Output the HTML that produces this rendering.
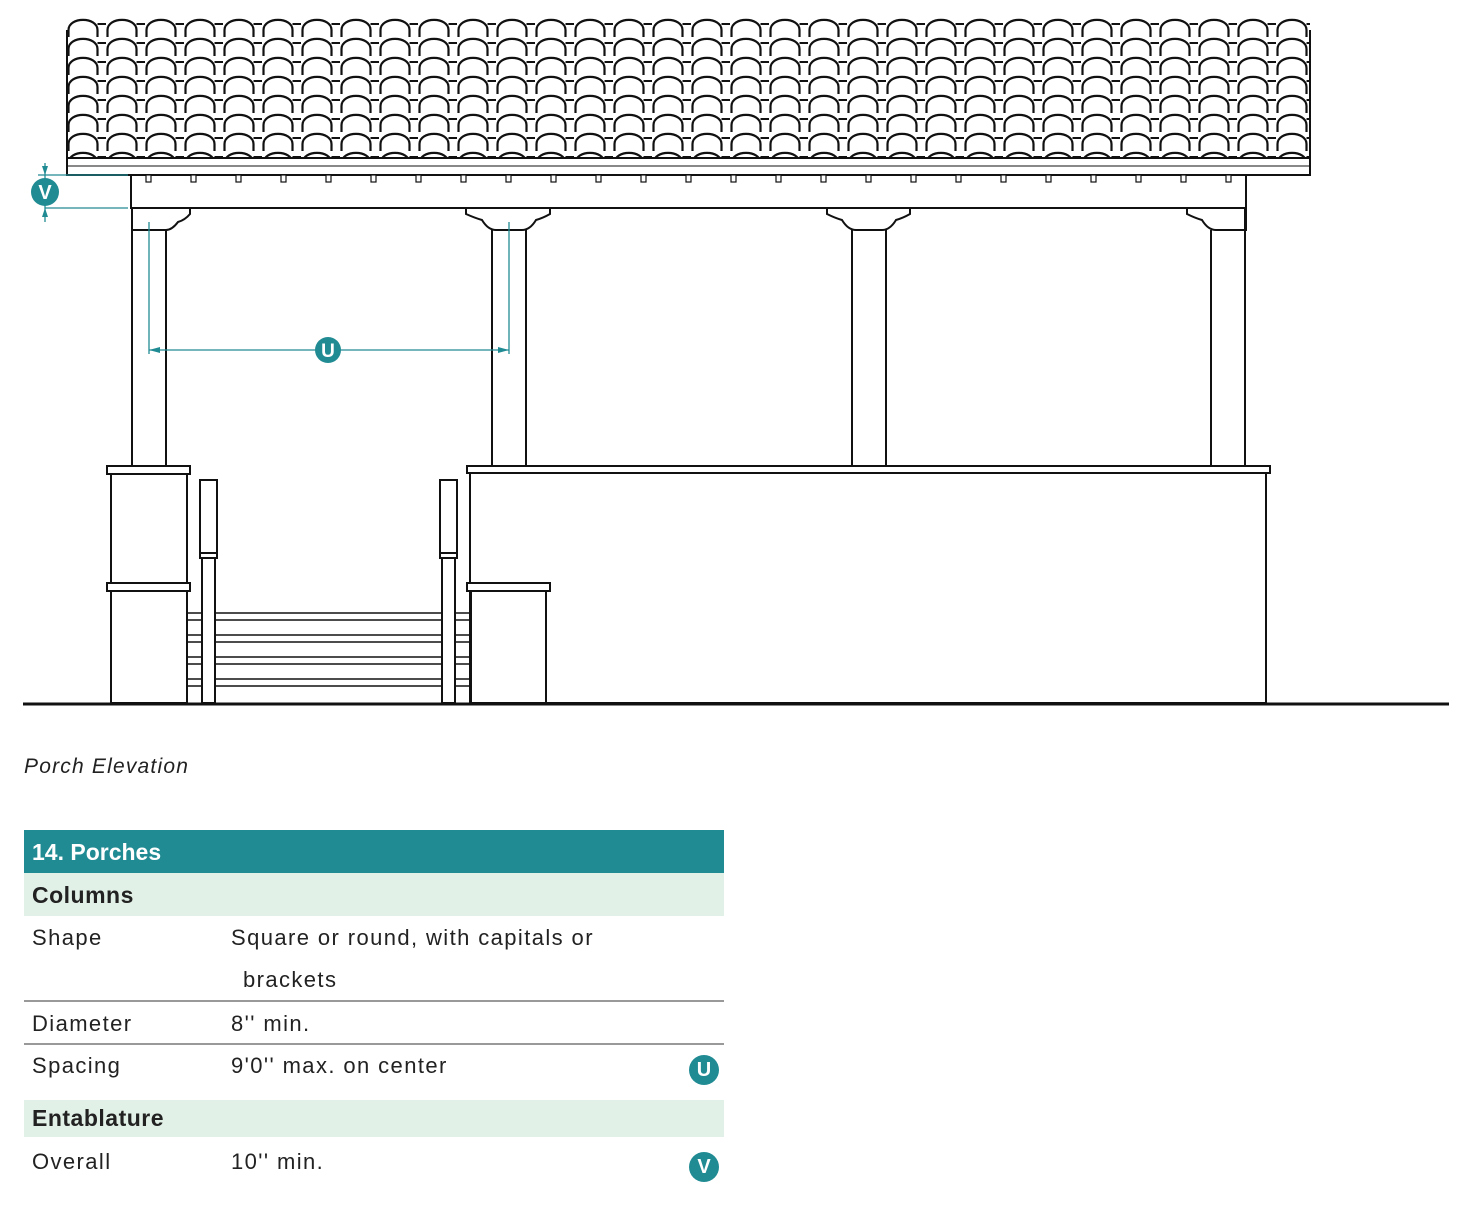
<!DOCTYPE html>
<html><head><meta charset="utf-8"><style>
body{margin:0;background:#fff;width:1469px;height:1210px;overflow:hidden;position:relative;font-family:"Liberation Sans",sans-serif}
.t{position:absolute;left:24px;width:700px}
.r{position:absolute;left:0;width:700px}
.r span{position:absolute;font-size:22px;color:#222;letter-spacing:1.4px}
.bad{position:absolute;width:30px;height:30px;border-radius:50%;background:#218b93;color:#fff;font-weight:bold;font-size:20px;text-align:center;line-height:30px}
</style></head><body>
<svg width="1469" height="720" style="position:absolute;left:0;top:0" xmlns="http://www.w3.org/2000/svg">
<defs>
<pattern id="tile" x="67" y="18" width="39" height="19" patternUnits="userSpaceOnUse">
<rect width="39" height="19" fill="#fff"/>
<path d="M1.5,19 L1.5,12 C1.5,-1.5 30.5,-1.5 30.5,12 L30.5,19" fill="none" stroke="#111" stroke-width="2.2"/>
<path d="M30.5,6 L39,6" stroke="#111" stroke-width="2"/>
</pattern>
</defs>
<g stroke="#111" fill="none" stroke-width="2">
<rect x="67" y="18" width="1243" height="142" fill="url(#tile)" stroke="none"/>
<path d="M67,160 L67,30 M1310,160 L1310,30"/>
<rect x="67" y="158" width="1243" height="17" fill="#fff"/>
<path d="M67,166 L1310,166" stroke-width="1"/>
<path d="M131,175 L131,208 L1246,208 L1246,175"/>
</g>
<g stroke="#111" fill="#fff" stroke-width="1.2">
<rect x="146" y="175" width="5" height="7"/><rect x="191" y="175" width="5" height="7"/><rect x="236" y="175" width="5" height="7"/><rect x="281" y="175" width="5" height="7"/><rect x="326" y="175" width="5" height="7"/><rect x="371" y="175" width="5" height="7"/><rect x="416" y="175" width="5" height="7"/><rect x="461" y="175" width="5" height="7"/><rect x="506" y="175" width="5" height="7"/><rect x="551" y="175" width="5" height="7"/><rect x="596" y="175" width="5" height="7"/><rect x="641" y="175" width="5" height="7"/><rect x="686" y="175" width="5" height="7"/><rect x="731" y="175" width="5" height="7"/><rect x="776" y="175" width="5" height="7"/><rect x="821" y="175" width="5" height="7"/><rect x="866" y="175" width="5" height="7"/><rect x="911" y="175" width="5" height="7"/><rect x="956" y="175" width="5" height="7"/><rect x="1001" y="175" width="5" height="7"/><rect x="1046" y="175" width="5" height="7"/><rect x="1091" y="175" width="5" height="7"/><rect x="1136" y="175" width="5" height="7"/><rect x="1181" y="175" width="5" height="7"/><rect x="1226" y="175" width="5" height="7"/>
</g>
<g stroke="#111" fill="#fff" stroke-width="2">
<path d="M131,208 L190,208 L190,214 Q185,220 178,222 Q172,230 166,230 L131,230"/>
<path d="M466,208 L550,208 L550,214 Q543,218 536,220 Q530,230 522,230 L496,230 Q488,230 482,220 Q475,218 466,214Z"/>
<path d="M827,208 L910,208 L910,214 Q903,218 896,220 Q890,230 882,230 L856,230 Q848,230 842,220 Q835,218 827,214Z"/>
<path d="M1187,208 L1246,208 L1246,230 L1216,230 Q1208,230 1202,220 Q1195,218 1187,214Z"/>
<path d="M132,208 L132,467 M166,230 L166,467"/>
<path d="M492,230 L492,467 M526,230 L526,467"/>
<path d="M852,230 L852,467 M886,230 L886,467"/>
<path d="M1211,230 L1211,467 M1245,208 L1245,467"/>
<rect x="467" y="466" width="803" height="7"/>
<rect x="470" y="473" width="796" height="230"/>
<rect x="107" y="466" width="83" height="8"/>
<rect x="111" y="474" width="76" height="229"/>
<rect x="107" y="583" width="83" height="8"/>
<rect x="467" y="583" width="83" height="8"/>
<rect x="471" y="591" width="75" height="112"/>
</g>
<g stroke="#111" stroke-width="1.5">
<path d="M187,613 L471,613 M187,620 L471,620 M187,635 L471,635 M187,642 L471,642 M187,657 L471,657 M187,664 L471,664 M187,679 L471,679 M187,686 L471,686"/>
</g>
<g stroke="#111" fill="#fff" stroke-width="2">
<rect x="200" y="480" width="17" height="73"/><rect x="200" y="553" width="17" height="5"/><rect x="202" y="558" width="13" height="145"/>
<rect x="440" y="480" width="17" height="73"/><rect x="440" y="553" width="17" height="5"/><rect x="442" y="558" width="13" height="145"/>
</g>
<path d="M23,704 L1449,704" stroke="#111" stroke-width="3"/>
<g stroke="#218b93" stroke-width="1.3" fill="#218b93">
<path d="M149,222 L149,354 M509,222 L509,354 M149,350 L509,350" fill="none"/>
<path d="M149,350 L160,347 L160,353Z M509,350 L498,347 L498,353Z" stroke="none"/>
<path d="M45,163 L45,222 M38,175 L128,175 M45,208 L128,208" fill="none"/>
<path d="M45,175 L42,166 L48,166Z M45,208 L42,217 L48,217Z" stroke="none"/>
<circle cx="328" cy="350" r="13" stroke="none"/>
<circle cx="45" cy="192" r="14" stroke="none"/>
</g>
<text x="328" y="357" fill="#fff" font-family="Liberation Sans" font-weight="bold" font-size="19" text-anchor="middle">U</text>
<text x="45" y="199" fill="#fff" font-family="Liberation Sans" font-weight="bold" font-size="20" text-anchor="middle">V</text>
</svg>
<div style="position:absolute;left:24px;top:755px;font-size:21px;font-style:italic;color:#222;letter-spacing:1.2px">Porch Elevation</div>
<div class="t" style="top:830px">
<div class="r" style="top:0;height:43px;background:#218b93"><span style="left:8px;top:9px;color:#fff;font-weight:bold;font-size:23px;letter-spacing:0">14. Porches</span></div>
<div class="r" style="top:43px;height:43px;background:#e2f1e7"><span style="left:8px;top:9px;font-weight:bold;font-size:23px;letter-spacing:0.5px">Columns</span></div>
<div class="r" style="top:86px;height:84px"><span style="left:8px;top:9px">Shape</span><span style="left:207px;top:9px">Square or round, with capitals or</span><span style="left:219px;top:51px">brackets</span></div>
<div class="r" style="top:170px;height:2px;background:#999"></div>
<div class="r" style="top:172px;height:41px"><span style="left:8px;top:9px">Diameter</span><span style="left:207px;top:9px">8'' min.</span></div>
<div class="r" style="top:213px;height:2px;background:#999"></div>
<div class="r" style="top:215px;height:55px"><span style="left:8px;top:8px">Spacing</span><span style="left:207px;top:8px">9'0'' max. on center</span></div>
<div class="bad" style="left:665px;top:225px">U</div>
<div class="r" style="top:270px;height:37px;background:#e2f1e7"><span style="left:8px;top:5px;font-weight:bold;font-size:23px;letter-spacing:0.5px">Entablature</span></div>
<div class="r" style="top:307px;height:55px"><span style="left:8px;top:12px">Overall</span><span style="left:207px;top:12px">10'' min.</span></div>
<div class="bad" style="left:665px;top:322px">V</div>
</div>
</body></html>
